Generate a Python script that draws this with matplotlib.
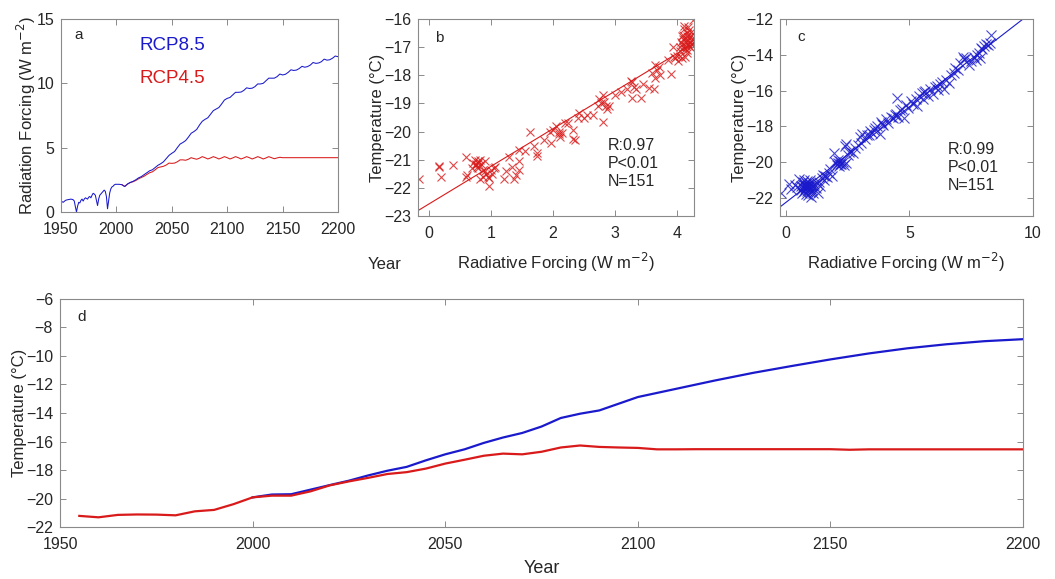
import numpy as np
import matplotlib
matplotlib.use("Agg")
import matplotlib.pyplot as plt

plt.rcParams['font.family'] = ['Liberation Sans', 'DejaVu Sans']

# ---------------- data ----------------
# Panel a: radiative forcing (W m-2)
hist_years = np.arange(1950, 2001, 1)
hist_forcing = [0.85, 0.8, 0.75, 0.82, 0.9, 0.93, 0.95, 0.97, 0.98, 1.0,
                0.98, 0.95, 0.85, 0.4, 0.0, 0.45, 0.75, 0.7, 0.9, 1.0,
                0.85, 1.0, 1.1, 1.05, 1.0, 1.15, 1.2, 1.1, 1.3, 1.45,
                1.4, 1.3, 0.9, 0.5, 1.0, 1.3, 1.4, 1.5, 1.6, 1.7,
                1.6, 1.2, 0.25, 0.9, 1.5, 1.8, 1.95, 2.0, 2.1, 2.15,
                2.15]
rcp85_years = np.arange(2002.5, 2200.1, 2.5)
rcp85_forcing = [2.15, 2.12, 1.98, 2.17, 2.3, 2.38, 2.5, 2.65,
                 2.75, 2.9, 3.05, 3.2, 3.28, 3.45, 3.63, 3.75,
                 3.9, 4.15, 4.4, 4.56, 4.7, 5.0, 5.28, 5.4,
                 5.55, 5.82, 6.12, 6.25, 6.42, 6.76, 7.05, 7.2,
                 7.32, 7.6, 7.88, 8.0, 8.12, 8.4, 8.7, 8.83,
                 8.9, 9.1, 9.3, 9.3, 9.32, 9.45, 9.65, 9.6,
                 9.62, 9.74, 9.95, 9.95, 10.0, 10.2, 10.4, 10.4,
                 10.4, 10.52, 10.72, 10.65, 10.7, 10.85, 11.05, 11.0,
                 11.03, 11.15, 11.32, 11.25, 11.3, 11.42, 11.62, 11.55,
                 11.58, 11.68, 11.88, 11.8, 11.83, 11.95, 12.12, 12.07]
rcp45_years = list(np.arange(2005, 2150.1, 2.5)) + [2200]
rcp45_forcing = [2.12, 1.98, 2.17, 2.28, 2.35, 2.45, 2.58,
                 2.68, 2.78, 2.92, 3.05, 3.12, 3.28, 3.45, 3.5,
                 3.55, 3.65, 3.8, 3.78, 3.8, 3.9, 4.05, 4.05,
                 4.02, 4.1, 4.22, 4.15, 4.1, 4.18, 4.3, 4.22,
                 4.12, 4.2, 4.3, 4.22, 4.12, 4.2, 4.3, 4.22,
                 4.12, 4.2, 4.3, 4.22, 4.12, 4.2, 4.3, 4.22,
                 4.12, 4.2, 4.3, 4.22, 4.12, 4.2, 4.3, 4.22,
                 4.14, 4.2, 4.25, 4.22,
                 4.22]

# Panel b: RCP4.5 forcing vs temperature
b_forcing = [-0.15, 0.17, 0.17, 0.2, 0.4, 0.6, 0.6, 0.62, 0.7, 0.72, 0.75, 0.77, 0.78,
             0.8, 0.8, 0.82, 0.85, 0.83, 0.87, 0.9, 0.9, 0.93, 0.95, 0.97, 0.98, 1.0,
             1.02, 1.05, 1.07, 0.88, 0.76, 0.79, 1.22, 1.25, 1.3, 1.35, 1.37, 1.4, 1.45,
             1.45, 1.45, 1.55, 1.63, 1.7, 1.75, 1.75, 1.85, 1.95, 1.97, 2.0, 2.05, 2.1,
             2.1, 2.12, 2.15, 2.2, 2.25, 2.33, 2.33, 2.35, 2.4, 2.42, 2.5, 2.55, 2.65,
             2.72, 2.75, 2.78, 2.8, 2.8, 2.82, 2.85, 2.87, 2.9, 3.0, 3.1, 3.2, 3.25,
             3.27, 3.28, 3.3, 3.33, 3.42, 3.45, 3.55, 3.6, 3.62, 3.65, 3.65, 3.67, 3.7,
             3.72, 3.85, 3.9, 3.93, 3.95, 3.97, 4.0, 4.02, 4.04, 4.05, 4.06, 4.07, 4.08,
             4.09, 4.1, 4.1, 4.11, 4.12, 4.13, 4.14, 4.15, 4.15, 4.16, 4.17, 4.18, 4.19,
             4.2, 4.2, 4.21, 4.22, 4.23, 4.24, 4.25, 4.25, 4.12, 4.05, 4.18, 4.14, 4.08,
             4.22, 4.11, 4.19, 4.16]
b_temp = [-21.7, -21.22, -21.25, -21.6, -21.2, -20.9, -21.6, -21.55, -21.3, -21.1, -21.0, -21.2, -21.25,
          -21.1, -21.3, -21.0, -21.15, -21.7, -21.6, -21.05, -21.4, -21.5, -21.6, -21.95, -21.65, -21.35,
          -21.5, -21.3, -21.25, -21.35, -21.15, -21.05, -21.7, -21.4, -20.9, -21.25, -21.7, -21.55, -21.05,
          -21.35, -20.65, -20.7, -20.0, -20.5, -20.75, -20.85, -20.3, -20.0, -20.4, -19.95, -19.8, -20.0,
          -20.1, -20.2, -20.05, -19.7, -19.7, -19.95, -20.25, -20.3, -19.5, -19.35, -19.5, -19.4, -19.4,
          -19.1, -18.85, -19.0, -18.7, -19.65, -18.95, -19.1, -19.2, -19.1, -18.7, -18.6, -18.5, -18.2,
          -18.25, -18.8, -18.4, -18.5, -18.8, -18.3, -18.45, -17.9, -18.5, -17.65, -18.1, -17.8, -17.7,
          -18.0, -17.45, -17.95, -17.0, -17.35, -17.4, -17.3, -17.5, -17.15, -17.3, -16.8, -16.6, -16.9,
          -16.7, -16.55, -17.0, -16.35, -16.7, -17.05, -16.8, -16.5, -17.2, -16.6, -16.9, -16.75, -16.4,
          -16.65, -17.0, -16.85, -16.55, -16.75, -16.9, -16.05, -16.7, -17.35, -17.0, -16.3, -16.95, -17.4,
          -16.45, -16.25, -16.95, -17.1]
b_fit = (1.34, -22.58)          # slope, intercept
b_stats = ["R:0.97", "P<0.01", "N=151"]

# Panel c: RCP8.5 forcing vs temperature
c_forcing = [-0.2, 0.12, 0.2, 0.35, 0.45, 0.55, 0.6, 0.63, 0.65, 0.68, 0.7, 0.72, 0.74, 0.75,
             0.77, 0.78, 0.8, 0.8, 0.82, 0.83, 0.85, 0.86, 0.88, 0.9, 0.9, 0.92, 0.93, 0.95,
             0.97, 0.98, 1.0, 1.02, 1.03, 1.05, 1.08, 1.1, 1.15, 1.2, 1.3, 1.35, 1.4, 1.45,
             1.5, 1.55, 1.65, 1.75, 1.8, 1.85, 1.95, 2.0, 2.05, 2.1, 2.1, 2.15, 2.2, 2.25,
             2.3, 2.35, 2.4, 2.45, 2.45, 2.5, 2.6, 2.7, 2.8, 2.9, 3.0, 3.05, 3.1, 3.2, 3.3,
             3.4, 3.5, 3.6, 3.7, 3.8, 3.85, 3.95, 4.05, 4.15, 4.25, 4.35, 4.45, 4.5, 4.55,
             4.6, 4.7, 4.8, 4.85, 4.95, 5.05, 5.15, 5.25, 5.3, 5.4, 5.5, 5.55, 5.65, 5.75,
             5.85, 5.95, 6.05, 6.15, 6.25, 6.3, 6.4, 6.5, 6.6, 6.7, 6.8, 6.85, 6.95, 7.05,
             7.15, 7.2, 7.3, 7.4, 7.5, 7.6, 7.7, 7.75, 7.8, 7.85, 7.9, 8.0, 8.1, 8.2, 8.3,
             8.25, 7.95, 3.35, 3.55, 2.55, 1.6, 1.25, 0.96, 0.87, 2.2, 6.1, 5.6, 4.4, 3.9]
c_temp = [-21.7, -21.2, -21.5, -21.25, -21.4, -20.95, -21.55, -21.3, -21.7, -21.1, -21.4, -21.25, -21.6, -21.0,
          -21.35, -21.5, -21.15, -21.75, -21.3, -21.45, -21.05, -21.6, -21.25, -21.4, -21.85, -21.15, -21.5, -21.3,
          -21.65, -21.0, -21.4, -21.95, -21.25, -21.55, -21.35, -21.7, -21.2, -21.45, -21.7, -21.1, -21.3, -20.9,
          -20.7, -21.0, -20.8, -20.6, -20.4, -20.75, -19.5, -20.0, -20.15, -19.85, -20.05, -20.2, -19.95, -20.1,
          -20.0, -20.15, -19.1, -19.0, -20.05, -19.6, -19.35, -19.5, -19.2, -19.05, -18.6, -18.9, -18.4, -18.7, -18.5,
          -18.25, -18.35, -18.1, -18.0, -18.4, -17.75, -17.9, -17.6, -17.8, -17.45, -17.55, -17.3, -16.4, -17.45,
          -17.1, -17.0, -17.55, -16.8, -16.95, -16.6, -16.75, -16.45, -16.85, -16.3, -16.15, -16.45, -16.0, -16.3,
          -15.9, -16.2, -15.8, -15.95, -15.6, -15.5, -15.9, -15.4, -15.55, -15.15, -15.0, -14.75, -14.85, -14.45,
          -14.1, -14.25, -14.15, -14.55, -14.35, -14.1, -14.3, -14.0, -13.9, -14.2, -13.6, -13.5, -13.4, -13.45, -12.9,
          -13.35, -13.7, -18.45, -18.2, -19.45, -20.75, -21.15, -21.45, -21.35, -20.1, -15.75, -16.05, -17.35, -17.85]
c_fit = (1.067, -22.24)
c_stats = ["R:0.99", "P<0.01", "N=151"]

# Panel d: temperature (deg C)
d_rcp45_years = np.arange(1955, 2201, 5)
d_rcp45_temp = [-21.22, -21.32, -21.15, -21.12, -21.13, -21.18, -20.9, -20.8, -20.4, -19.92,
                -19.8, -19.8, -19.5, -19.08, -18.8, -18.55, -18.28, -18.15, -17.9, -17.55,
                -17.28, -17.0, -16.85, -16.9, -16.72, -16.42, -16.28, -16.38, -16.42, -16.45,
                -16.55, -16.55, -16.54, -16.54, -16.54, -16.54, -16.54, -16.54, -16.54, -16.54,
                -16.58, -16.55, -16.55, -16.55, -16.55, -16.55, -16.55, -16.55, -16.55, -16.55]
d_rcp85_years = [2000, 2005, 2010, 2015, 2020, 2025, 2030, 2035, 2040, 2045, 2050, 2055, 2060,
                 2065, 2070, 2075, 2080, 2085, 2090, 2095, 2100, 2110, 2120, 2130, 2140, 2150,
                 2160, 2170, 2180, 2190, 2200]
d_rcp85_temp = [-19.92, -19.72, -19.7, -19.38, -19.06, -18.75, -18.38, -18.05, -17.78, -17.32, -16.9,
                -16.55, -16.1, -15.72, -15.4, -14.95, -14.35, -14.05, -13.82, -13.35, -12.88, -12.3,
                -11.72, -11.18, -10.7, -10.24, -9.82, -9.46, -9.18, -8.96, -8.82]

# ---------------- styling ----------------
BLUE = '#1a1acc'
RED = '#d91a1a'
FRAME = '#8a8a8a'
TXT = '#262626'
TICK_FS = 11.5
LAB_FS = 12


def style(ax):
    for s in ax.spines.values():
        s.set_color(FRAME)
        s.set_linewidth(0.8)
    ax.tick_params(direction='in', top=True, right=True, length=4, width=0.7,
                   color=FRAME, labelcolor=TXT, labelsize=TICK_FS)
    ax.tick_params(axis='x', pad=7)
    ax.tick_params(axis='y', pad=5)


fig = plt.figure(figsize=(10.55, 5.79), dpi=100)

# ---- panel a ----
ax_a = fig.add_axes([0.0578, 0.6339, 0.2626, 0.3333])
ax_a.plot(rcp45_years, rcp45_forcing, color=RED, lw=0.75)
ax_a.plot(list(hist_years) + list(rcp85_years), hist_forcing + rcp85_forcing, color=BLUE, lw=0.75)
ax_a.set_xlim(1950, 2200)
ax_a.set_ylim(0, 15)
ax_a.set_xticks([1950, 2000, 2050, 2100, 2150, 2200])
ax_a.set_yticks([0, 5, 10, 15])
ax_a.set_ylabel('Radiation Forcing (W m$^{-2}$)', fontsize=LAB_FS, color=TXT, labelpad=-1)
ax_a.text(0.05, 0.917, 'a', transform=ax_a.transAxes, fontsize=11, color=TXT, va='center')
ax_a.text(0.285, 0.865, 'RCP8.5', transform=ax_a.transAxes, fontsize=13.5, color=BLUE, va='center')
ax_a.text(0.285, 0.694, 'RCP4.5', transform=ax_a.transAxes, fontsize=13.5, color=RED, va='center')
style(ax_a)
fig.text(385 / 1055, 1 - 265 / 579, 'Year', fontsize=LAB_FS, color=TXT, ha='center', va='center')

# ---- panel b ----
ax_b = fig.add_axes([0.3962, 0.6269, 0.2616, 0.3402])
ax_b.plot(b_forcing, b_temp, 'x', color=RED, ms=6, mew=0.8, alpha=0.8)
xl = np.array([-0.17, 4.27])
ax_b.plot(xl, b_fit[0] * xl + b_fit[1], color=RED, lw=0.8)
ax_b.set_xlim(-0.17, 4.27)
ax_b.set_ylim(-23, -16)
ax_b.set_xticks([0, 1, 2, 3, 4])
ax_b.set_yticks(np.arange(-23, -15.9, 1))
ax_b.set_xlabel('Radiative Forcing (W m$^{-2}$)', fontsize=LAB_FS, color=TXT, labelpad=7)
ax_b.set_ylabel('Temperature (°C)', fontsize=LAB_FS, color=TXT, labelpad=-1)
ax_b.text(0.062, 0.905, 'b', transform=ax_b.transAxes, fontsize=11, color=TXT, va='center')
for s, yy in zip(b_stats, [0.357, 0.268, 0.174]):
    ax_b.text(0.688, yy, s, transform=ax_b.transAxes, fontsize=11.5, color=TXT, va='center')
style(ax_b)

# ---- panel c ----
ax_c = fig.add_axes([0.7393, 0.6269, 0.2398, 0.3402])
ax_c.plot(c_forcing, c_temp, 'x', color=BLUE, ms=7, mew=0.8, alpha=0.8)
xl = np.array([-0.24, 10])
ax_c.plot(xl, c_fit[0] * xl + c_fit[1], color=BLUE, lw=0.8)
ax_c.set_xlim(-0.24, 10)
ax_c.set_ylim(-23, -12)
ax_c.set_xticks([0, 5, 10])
ax_c.set_yticks(np.arange(-22, -11.9, 2))
ax_c.set_xlabel('Radiative Forcing (W m$^{-2}$)', fontsize=LAB_FS, color=TXT, labelpad=7)
ax_c.set_ylabel('Temperature (°C)', fontsize=LAB_FS, color=TXT, labelpad=-1)
ax_c.text(0.067, 0.91, 'c', transform=ax_c.transAxes, fontsize=11, color=TXT, va='center')
for s, yy in zip(c_stats, [0.339, 0.247, 0.156]):
    ax_c.text(0.664, yy, s, transform=ax_c.transAxes, fontsize=11.5, color=TXT, va='center')
style(ax_c)

# ---- panel d ----
ax_d = fig.add_axes([0.0569, 0.0898, 0.9128, 0.3938])
ax_d.plot(d_rcp85_years, d_rcp85_temp, color=BLUE, lw=1.6)
ax_d.plot(d_rcp45_years, d_rcp45_temp, color=RED, lw=1.6)
ax_d.set_xlim(1950, 2200)
ax_d.set_ylim(-22, -6)
ax_d.set_xticks([1950, 2000, 2050, 2100, 2150, 2200])
ax_d.set_yticks(np.arange(-22, -5.9, 2))
ax_d.set_xlabel('Year', fontsize=13, color=TXT, labelpad=6)
ax_d.set_ylabel('Temperature (°C)', fontsize=LAB_FS, color=TXT, labelpad=-1)
ax_d.text(0.018, 0.92, 'd', transform=ax_d.transAxes, fontsize=11, color=TXT, va='center')
style(ax_d)

fig.savefig('out.png', dpi=100)
